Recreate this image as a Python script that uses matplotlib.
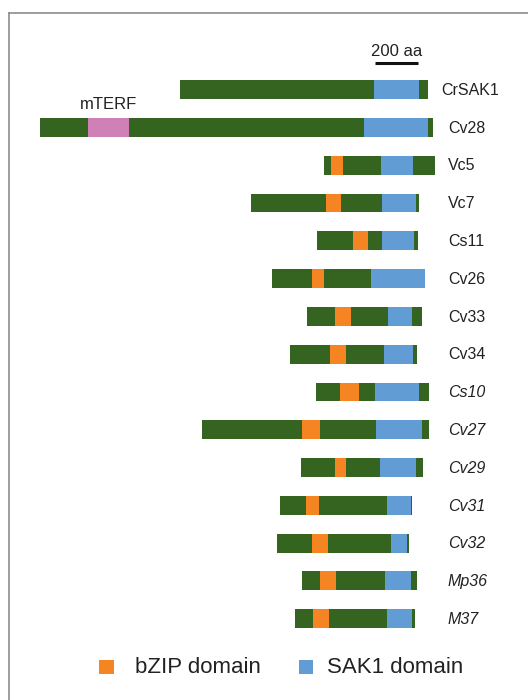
import matplotlib.pyplot as plt
from matplotlib.patches import Rectangle

plt.rcParams['font.family'] = ['Liberation Sans', 'DejaVu Sans']

# protein names, top to bottom
names = ['CrSAK1', 'Cv28', 'Vc5', 'Vc7', 'Cs11', 'Cv26', 'Cv33', 'Cv34',
         'Cs10', 'Cv27', 'Cv29', 'Cv31', 'Cv32', 'Mp36', 'M37']
italic = [False] * 8 + [True] * 7

# full length (aa, common axis)
starts = [657, 0, 1330, 990, 1299, 1088, 1252, 1172, 1294, 760, 1224, 1126, 1112, 1229, 1196]
ends = [1817, 1841, 1850, 1777, 1773, 1805, 1791, 1767, 1823, 1823, 1795, 1744, 1730, 1767, 1758]

# bZIP domain (None = absent)
bzip_start = [None, None, 1363, 1341, 1468, 1275, 1383, 1360, 1407, 1229, 1383, 1247, 1275, 1313, 1280]
bzip_end = [None, None, 1419, 1411, 1538, 1332, 1458, 1435, 1496, 1313, 1435, 1308, 1350, 1388, 1355]

# SAK1 domain
sak_start = [1567, 1520, 1599, 1603, 1603, 1552, 1631, 1613, 1571, 1575, 1594, 1627, 1645, 1617, 1627]
sak_end = [1778, 1817, 1747, 1762, 1753, 1805, 1744, 1749, 1777, 1791, 1762, 1739, 1720, 1739, 1744]

# mTERF domain in Cv28
mterf = (226, 417)

green = '#356421'
orange = '#F58423'
blue = '#629CD4'
pink = '#CF80B7'

fig = plt.figure(figsize=(5.28, 7), dpi=100)
ax = fig.add_axes([0, 0, 1, 1])
ax.set_xlim(-186, 2287)
ax.set_ylim(16.15, -2.37)
ax.axis('off')

h = 0.5
for i, name in enumerate(names):
    ax.add_patch(Rectangle((starts[i], i - h / 2), ends[i] - starts[i], h, color=green, lw=0))
    if bzip_start[i] is not None:
        ax.add_patch(Rectangle((bzip_start[i], i - h / 2), bzip_end[i] - bzip_start[i], h, color=orange, lw=0))
    ax.add_patch(Rectangle((sak_start[i], i - h / 2), sak_end[i] - sak_start[i], h, color=blue, lw=0))
    lx = 1880 if name == 'CrSAK1' else 1912
    ax.text(lx, i + 0.02, name, ha='left', va='center', fontsize=11.5,
            style='italic' if italic[i] else 'normal', color='#222222')

ax.add_patch(Rectangle((mterf[0], 1 - h / 2), mterf[1] - mterf[0], h, color=pink, lw=0))
ax.text((mterf[0] + mterf[1]) / 2, 0.6, 'mTERF', ha='center', va='bottom', fontsize=12, color='#222222')

# scale bar: 200 aa
ax.plot([1571, 1771], [-0.69, -0.69], color='#111111', lw=2.2, solid_capstyle='butt')
ax.text(1671, -0.8, '200 aa', ha='center', va='bottom', fontsize=12, color='#222222')

# legend
ax.add_patch(Rectangle((278, 15.1), 70, 0.37, color=orange, lw=0))
ax.text(446, 15.29, 'bZIP domain', ha='left', va='center', fontsize=16, color='#222222')
ax.add_patch(Rectangle((1214, 15.1), 66, 0.37, color=blue, lw=0))
ax.text(1345, 15.29, 'SAK1 domain', ha='left', va='center', fontsize=16, color='#222222')

# frame lines (left and top)
fig.add_artist(plt.Line2D([8.5 / 528, 8.5 / 528], [0, 1 - 12.5 / 700], color='#8c8c8c', lw=1.2))
fig.add_artist(plt.Line2D([8.5 / 528, 1], [1 - 12.5 / 700, 1 - 12.5 / 700], color='#8c8c8c', lw=1.2))

fig.savefig('out.png', dpi=100)
